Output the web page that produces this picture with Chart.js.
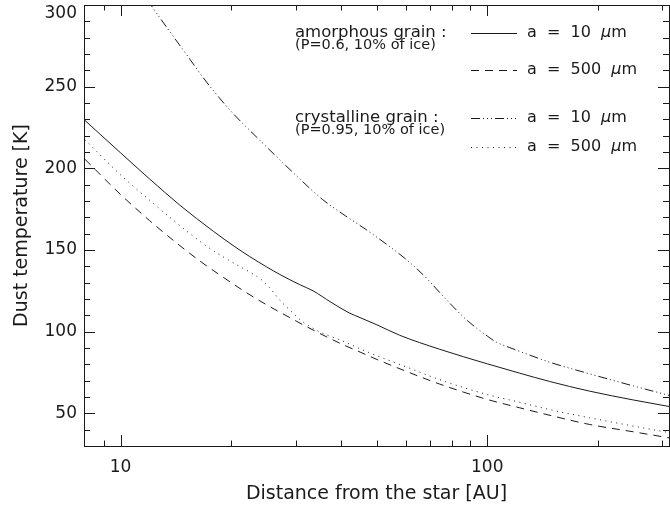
<!DOCTYPE html>
<html>
<head>
<meta charset="utf-8">
<script src="https://cdn.jsdelivr.net/npm/chart.js@4.4.1/dist/chart.umd.min.js"></script>
<style>
    html, body { margin: 0; padding: 0; background: #fff; }
</style>
</head>
<body>
<canvas id="grafico-poeira" width="670" height="508"></canvas>
<script>
// Distancia (AU) e temperatura da poeira (K)
const amorph10R = [8, 10, 12, 14.5, 17.9, 20.5, 22.5, 25, 27.2, 30.8, 33.5, 37.5, 42, 45, 50, 57.7, 74, 100, 122.5, 148, 190, 250, 313];
const amorph10T = [229.3, 209.5, 193.5, 177.5, 161.5, 152, 146, 139.7, 135, 128.8, 125, 118, 111.5, 108.6, 104.2, 97.8, 89.3, 80.3, 74.6, 69.5, 63.6, 58.2, 54.2];

const amorph500R = [8, 10, 12, 14, 16.4, 19, 22, 25, 29, 33.5, 40, 45, 50, 60, 74, 100, 122.5, 150, 190, 250, 313];
const amorph500T = [205.5, 184, 168, 155.5, 143.5, 133.5, 124, 116.5, 108.5, 101, 92.5, 87.5, 83, 75.8, 68, 58.5, 53.4, 48.5, 43.2, 38.7, 35];

const cryst10R = [8, 10, 12.1, 15.5, 16.8, 20, 23.9, 30, 35.6, 41, 46.8, 55, 60.2, 66.8, 77.3, 87.6, 100, 106, 115, 130, 148, 190, 250, 313];
const cryst10T = [366, 328, 300, 266.4, 255.5, 235, 217.5, 196, 180.8, 171, 162.4, 151, 144.1, 134.9, 119.7, 107.4, 97.3, 93.5, 90.3, 85.8, 81.3, 74.2, 66.8, 61];

const cryst500R = [8, 10, 12, 14.5, 17, 19.8, 22.5, 24, 25.5, 27, 29.5, 31, 33.5, 36, 39.6, 45, 50, 60, 74, 100, 122.5, 150, 190, 250, 313];
const cryst500T = [217.5, 196, 180.5, 165, 153, 143.5, 136.5, 132.5, 127, 120, 111.5, 107, 102, 98.5, 95, 89.5, 85.3, 78.5, 70.7, 61.5, 56.8, 52, 47.3, 42.2, 38.2];

// Marcas dos eixos
const distanceTicks = [9, 10, 20, 30, 40, 50, 60, 70, 80, 90, 100, 200, 300];
const distanceLabels = [10, 100];
const tempLabels = [50, 100, 150, 200, 250, 300];

// Legenda
const grainNames = ['amorphous grain :', 'crystalline grain :'];
const grainNotes = ['(P=0.6, 10% of ice)', '(P=0.95, 10% of ice)'];
const grainSizes = ['10', '500'];

const FONT = 'DejaVu Sans';
const INK = '#1a1a1a';

Chart.defaults.color = INK;
Chart.defaults.font.family = FONT;

const toPoints = (r, t) => r.map((x, i) => ({ x, y: t[i] }));

// Moldura com marcas para dentro, estilo IDL
const framePlugin = {
    id: 'frameTicks',
    afterDatasetsDraw(chart) {
        const { ctx, chartArea: a, scales: { x, y } } = chart;
        ctx.save();
        ctx.strokeStyle = INK;
        ctx.lineWidth = 1;
        ctx.strokeRect(a.left + 0.5, a.top + 0.5, a.right - a.left, a.bottom - a.top);
        ctx.beginPath();
        x.ticks.forEach(t => {
            const px = Math.round(x.getPixelForValue(t.value)) + 0.5;
            const len = distanceLabels.includes(t.value) ? 11 : 5.5;
            ctx.moveTo(px, a.bottom); ctx.lineTo(px, a.bottom - len);
            ctx.moveTo(px, a.top); ctx.lineTo(px, a.top + len);
        });
        y.ticks.forEach(t => {
            const py = Math.round(y.getPixelForValue(t.value)) + 0.5;
            const len = tempLabels.includes(t.value) ? 11 : 6;
            ctx.moveTo(a.left, py); ctx.lineTo(a.left + len, py);
            ctx.moveTo(a.right, py); ctx.lineTo(a.right - len, py);
        });
        ctx.stroke();
        ctx.restore();
    }
};

// Legenda desenhada dentro do grafico, como na figura original
const legendPlugin = {
    id: 'grainLegend',
    afterDraw(chart) {
        const ctx = chart.ctx;
        const rowsY = [[33, 70], [118, 147]];
        ctx.save();
        ctx.fillStyle = INK;
        ctx.strokeStyle = INK;
        ctx.lineWidth = 1;
        ctx.textBaseline = 'middle';
        grainNames.forEach((name, g) => {
            ctx.font = `16.5px ${FONT}`;
            ctx.fillText(name, 295, rowsY[g][0]);
            ctx.font = `14.5px ${FONT}`;
            ctx.fillText(grainNotes[g], 295, rowsY[g][0] + 12);
            grainSizes.forEach((size, s) => {
                const ds = chart.data.datasets[g * 2 + s];
                const yy = rowsY[g][s];
                ctx.setLineDash(ds.borderDash || []);
                ctx.beginPath();
                ctx.moveTo(471, yy + 0.5);
                ctx.lineTo(517, yy + 0.5);
                ctx.stroke();
                ctx.setLineDash([]);
                let xx = 527;
                const txt = `a  =  ${size}  `;
                ctx.font = `16px ${FONT}`;
                ctx.fillText(txt, xx, yy);
                xx += ctx.measureText(txt).width;
                ctx.font = `italic 16px ${FONT}`;
                ctx.fillText('μ', xx, yy);
                xx += ctx.measureText('μ').width;
                ctx.font = `16px ${FONT}`;
                ctx.fillText('m', xx, yy);
            });
        });
        ctx.restore();
    }
};

const lineStyle = dash => ({
    borderColor: INK,
    borderWidth: 1,
    borderDash: dash,
    pointRadius: 0,
    fill: false,
    cubicInterpolationMode: 'monotone'
});

new Chart(document.getElementById('grafico-poeira'), {
    type: 'line',
    data: {
        datasets: [
            { label: 'amorphous a = 10 μm', data: toPoints(amorph10R, amorph10T), ...lineStyle([]) },
            { label: 'amorphous a = 500 μm', data: toPoints(amorph500R, amorph500T), ...lineStyle([8, 6]) },
            { label: 'crystalline a = 10 μm', data: toPoints(cryst10R, cryst10T), ...lineStyle([9, 3, 1, 3, 1, 3, 1, 3]) },
            { label: 'crystalline a = 500 μm', data: toPoints(cryst500R, cryst500T), ...lineStyle([1, 4.5]) }
        ]
    },
    options: {
        responsive: false,
        animation: false,
        layout: { padding: { top: 5, right: 1, left: 0, bottom: 0 } },
        plugins: { legend: { display: false }, tooltip: { enabled: false } },
        scales: {
            x: {
                type: 'logarithmic',
                min: 7.95,
                max: 313,
                afterBuildTicks: axis => {
                    axis.ticks = distanceTicks.map(v => ({ value: v }));
                },
                afterFit: s => {
                    s.height = 62;
                    s.paddingLeft = 0;
                    s.paddingRight = 0;
                },
                ticks: {
                    autoSkip: false,
                    maxRotation: 0,
                    padding: 11,
                    font: { size: 17 },
                    callback: v => distanceLabels.includes(v) ? String(v) : ''
                },
                grid: { display: false, drawTicks: false },
                border: { display: false },
                title: {
                    display: true,
                    text: 'Distance from the star [AU]',
                    font: { size: 19 },
                    padding: { top: 0, bottom: 2.5 }
                }
            },
            y: {
                min: 30,
                max: 300,
                afterFit: s => {
                    s.width = 84;
                    s.paddingTop = 0;
                    s.paddingBottom = 0;
                },
                ticks: {
                    stepSize: 10,
                    autoSkip: false,
                    padding: 7,
                    font: { size: 17, lineHeight: 1 },
                    callback: v => tempLabels.includes(v) ? (v === 300 ? ['', '300'] : String(v)) : ''
                },
                grid: { display: false, drawTicks: false },
                border: { display: false },
                title: {
                    display: true,
                    text: 'Dust temperature [K]',
                    font: { size: 19 },
                    padding: { top: 11, bottom: 0 }
                }
            }
        }
    },
    plugins: [framePlugin, legendPlugin]
});
</script>
</body>
</html>
